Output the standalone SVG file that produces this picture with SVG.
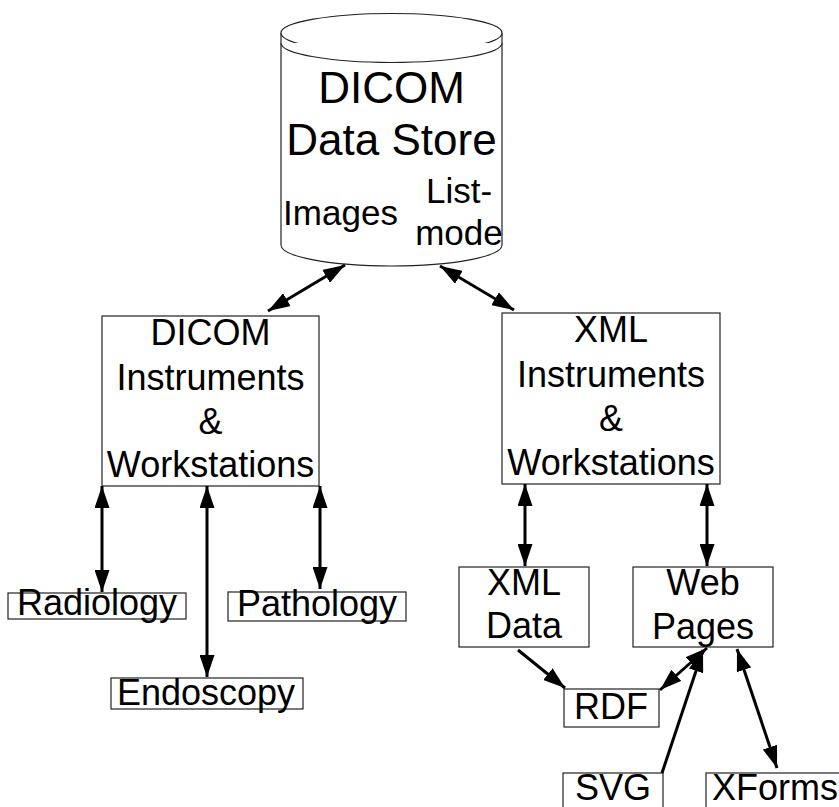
<svg xmlns="http://www.w3.org/2000/svg" width="839" height="807" viewBox="0 0 839 807">
<style>
.box{fill:#fff;stroke:#222;stroke-width:1.2}
.t{font-family:"Liberation Sans",Arial,sans-serif;fill:#000;text-anchor:middle}
.big{font-size:44px}
.mid{font-size:36px}
.sm{font-size:35px}
.c{stroke:#000;stroke-width:3;fill:none}
</style>
<defs>
<marker id="ah" markerUnits="userSpaceOnUse" markerWidth="22" markerHeight="15" refX="22" refY="7.5" orient="auto-start-reverse" viewBox="0 0 22 15">
<path d="M0,0 L22,7.5 L0,15 z" fill="#000"/>
</marker>
</defs>
<rect width="839" height="807" fill="#fff"/>
<g id="store">
<path class="box" d="M281,33 L281,245 A110.5,21 0 0 0 502,245 L502,33"/>
<ellipse class="box" cx="391.5" cy="33" rx="110.5" ry="19.5"/>
<path class="box" d="M281,43 A110.5,19.5 0 0 0 502,43" fill="none"/>
<text class="t big" x="391.5" y="103">DICOM</text>
<text class="t big" x="391.5" y="155">Data Store</text>
<text class="t sm" x="340.5" y="225">Images</text>
<text class="t sm" x="459" y="203">List-</text>
<text class="t sm" x="459" y="245">mode</text>
</g>
<g id="dicom">
<rect class="box" x="102" y="316" width="217" height="170"/>
<text class="t mid" x="210.5" y="345">DICOM</text>
<text class="t mid" x="210.5" y="390">Instruments</text>
<text class="t mid" x="210.5" y="434">&amp;</text>
<text class="t mid" x="210.5" y="477">Workstations</text>
</g>
<g id="xml">
<rect class="box" x="502" y="313" width="218" height="171"/>
<text class="t mid" x="611" y="342">XML</text>
<text class="t mid" x="611" y="387">Instruments</text>
<text class="t mid" x="611" y="431">&amp;</text>
<text class="t mid" x="611" y="475">Workstations</text>
</g>
<g id="radiology">
<rect class="box" x="8" y="593" width="178" height="26"/>
<text class="t mid" x="97" y="615">Radiology</text>
</g>
<g id="pathology">
<rect class="box" x="228" y="592" width="178" height="29"/>
<text class="t mid" x="317" y="616">Pathology</text>
</g>
<g id="endoscopy">
<rect class="box" x="111" y="678" width="192" height="31"/>
<text class="t mid" x="206" y="705">Endoscopy</text>
</g>
<g id="xmldata">
<rect class="box" x="459" y="567" width="130" height="80"/>
<text class="t mid" x="524" y="595">XML</text>
<text class="t mid" x="524" y="638">Data</text>
</g>
<g id="webpages">
<rect class="box" x="633" y="567" width="140" height="80"/>
<text class="t mid" x="703" y="595">Web</text>
<text class="t mid" x="703" y="639">Pages</text>
</g>
<g id="rdf">
<rect class="box" x="564" y="689" width="95" height="38"/>
<text class="t mid" x="611" y="719">RDF</text>
</g>
<g id="svg">
<rect class="box" x="563" y="773" width="100" height="40"/>
<text class="t mid" x="613" y="800">SVG</text>
</g>
<g id="xforms">
<rect class="box" x="706" y="773" width="140" height="40"/>
<text class="t mid" x="775" y="800">XForms</text>
</g>
<g id="connectors">
<line class="c" x1="345" y1="265" x2="268" y2="311" marker-start="url(#ah)" marker-end="url(#ah)"/>
<line class="c" x1="440" y1="266" x2="514" y2="310" marker-start="url(#ah)" marker-end="url(#ah)"/>
<line class="c" x1="102" y1="486" x2="102" y2="592" marker-start="url(#ah)" marker-end="url(#ah)"/>
<line class="c" x1="207" y1="486" x2="207" y2="677" marker-start="url(#ah)" marker-end="url(#ah)"/>
<line class="c" x1="320" y1="486" x2="320" y2="589" marker-start="url(#ah)" marker-end="url(#ah)"/>
<line class="c" x1="525" y1="484" x2="525" y2="566" marker-start="url(#ah)" marker-end="url(#ah)"/>
<line class="c" x1="707" y1="484" x2="707" y2="566" marker-start="url(#ah)" marker-end="url(#ah)"/>
<line class="c" x1="518" y1="650" x2="565" y2="688" marker-end="url(#ah)"/>
<line class="c" x1="707" y1="648" x2="660" y2="690" marker-start="url(#ah)" marker-end="url(#ah)"/>
<line class="c" x1="662" y1="773" x2="703" y2="650" marker-end="url(#ah)"/>
<line class="c" x1="737" y1="649" x2="777" y2="768" marker-start="url(#ah)" marker-end="url(#ah)"/>
</g>
</svg>
